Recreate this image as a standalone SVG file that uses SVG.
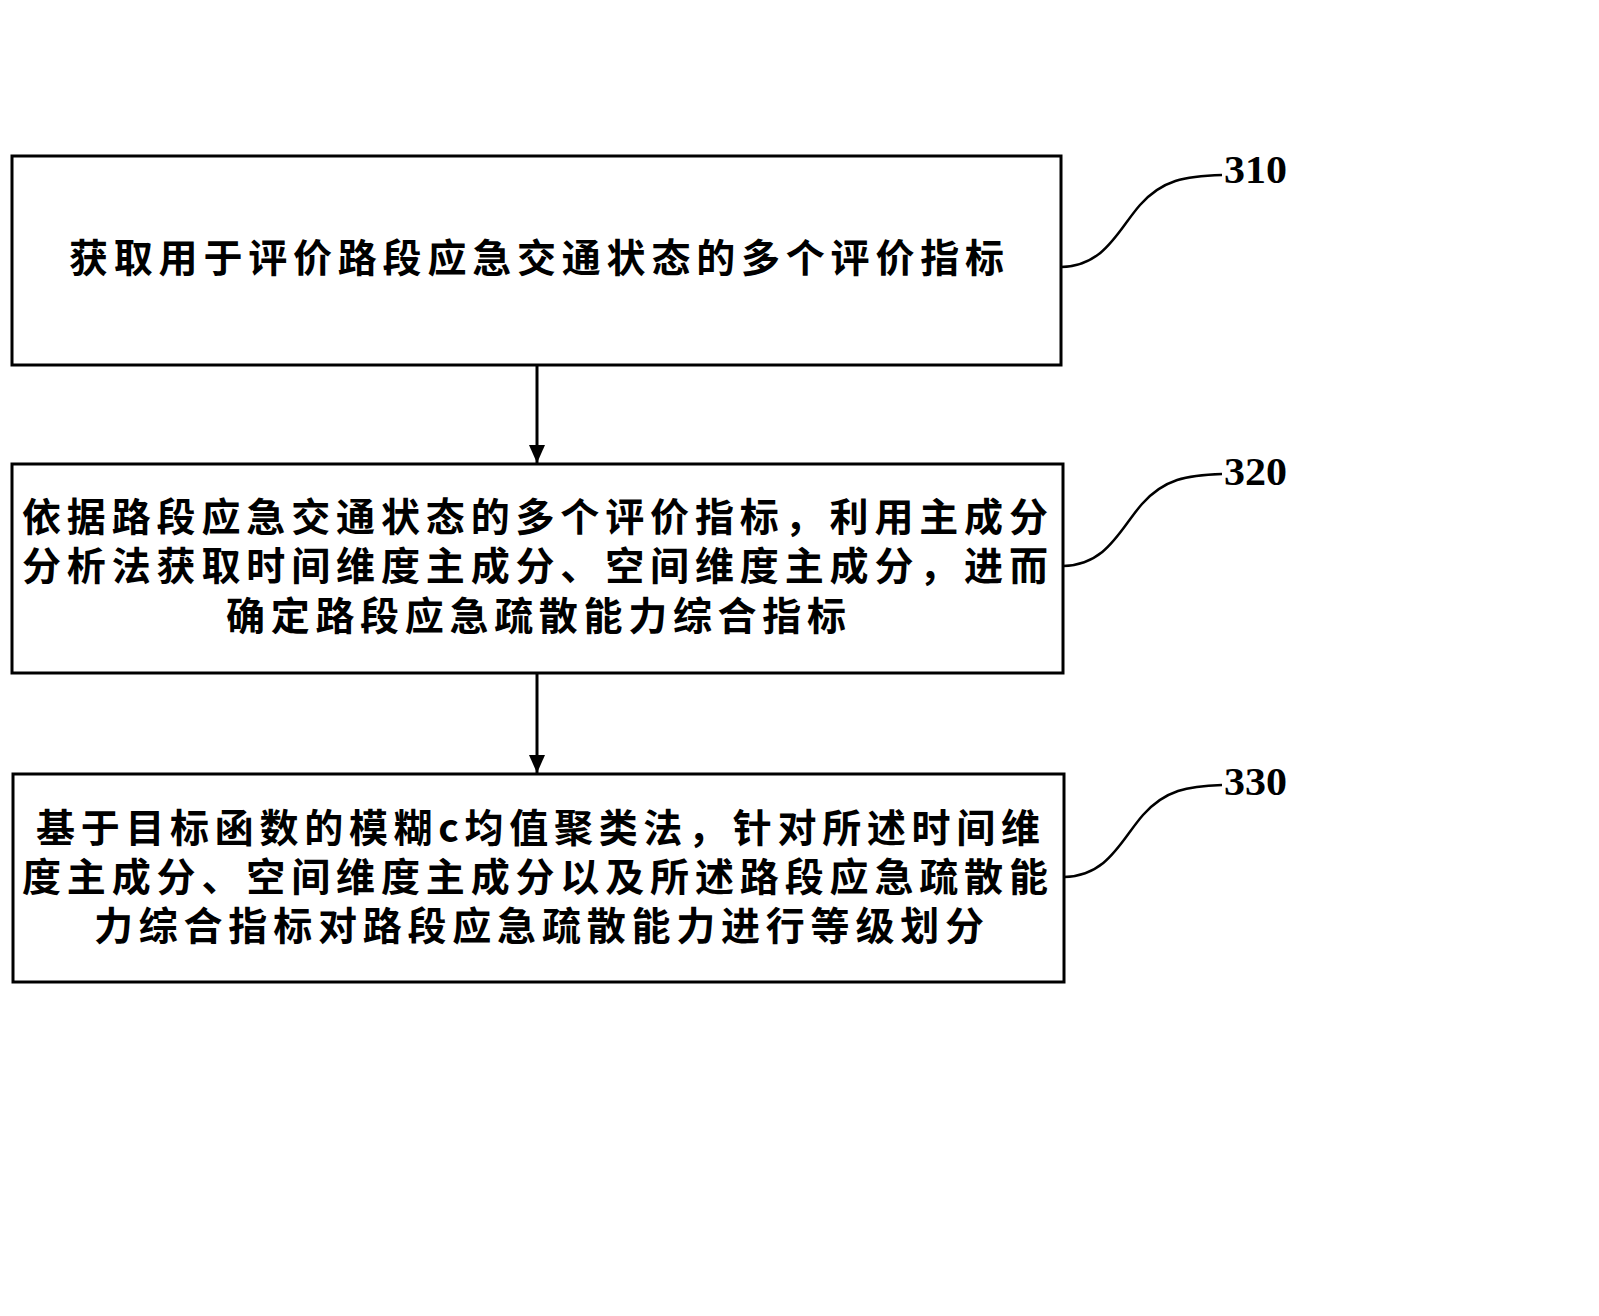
<svg xmlns="http://www.w3.org/2000/svg" width="1599" height="1316" viewBox="0 0 1599 1316">
<style>
.box{fill:#fff;stroke:#000;stroke-width:3}
.t{font-family:"Noto Sans CJK SC","Noto Sans",sans-serif;font-weight:bold;font-size:39px;fill:#000}
.lbl{font-family:"Liberation Serif",serif;font-weight:bold;font-size:40px;fill:#000}
.c{fill:none;stroke:#000;stroke-width:3}
.lead{fill:none;stroke:#000;stroke-width:2.5}
</style>
<defs>
<marker id="ah" markerWidth="18" markerHeight="16" refX="18" refY="8" orient="auto" markerUnits="userSpaceOnUse" viewBox="0 0 18 16">
<path d="M0,0 L18,8 L0,16 Z" fill="#000"/>
</marker>
</defs>
<rect width="1599" height="1316" fill="#fff"/>
<g id="connectors">
<line class="c" x1="537" y1="366" x2="537" y2="463" marker-end="url(#ah)"/>
<line class="c" x1="537" y1="674" x2="537" y2="773" marker-end="url(#ah)"/>
<path class="lead" d="M1061,267 C1105,266 1118,230 1140,205 S1185,176 1222,175"/>
<path class="lead" d="M1063,566 C1107,565 1120,529 1142,504 S1187,475 1222,474"/>
<path class="lead" d="M1064,877 C1108,876 1121,840 1143,815 S1188,786 1222,785"/>
</g>
<g id="n310">
<rect class="box" x="12" y="156" width="1049" height="209"/>
<text class="t" x="69" y="272" textLength="935" lengthAdjust="spacing">获取用于评价路段应急交通状态的多个评价指标</text>
<text class="lbl" x="1224" y="183" textLength="63" lengthAdjust="spacingAndGlyphs">310</text>
</g>
<g id="n320">
<rect class="box" x="12" y="464" width="1051" height="209"/>
<text class="t" x="22" y="531" textLength="1026" lengthAdjust="spacing">依据路段应急交通状态的多个评价指标，利用主成分</text>
<text class="t" x="22" y="580" textLength="1026" lengthAdjust="spacing">分析法获取时间维度主成分、空间维度主成分，进而</text>
<text class="t" x="226" y="630" textLength="620" lengthAdjust="spacing">确定路段应急疏散能力综合指标</text>
<text class="lbl" x="1224" y="485" textLength="63" lengthAdjust="spacingAndGlyphs">320</text>
</g>
<g id="n330">
<rect class="box" x="13" y="774" width="1051" height="208"/>
<text class="t" x="36" y="842" textLength="1004" lengthAdjust="spacing">基于目标函数的模糊c均值聚类法，针对所述时间维</text>
<text class="t" x="22" y="891" textLength="1026" lengthAdjust="spacing">度主成分、空间维度主成分以及所述路段应急疏散能</text>
<text class="t" x="94" y="940" textLength="890" lengthAdjust="spacing">力综合指标对路段应急疏散能力进行等级划分</text>
<text class="lbl" x="1224" y="795" textLength="63" lengthAdjust="spacingAndGlyphs">330</text>
</g>
</svg>
